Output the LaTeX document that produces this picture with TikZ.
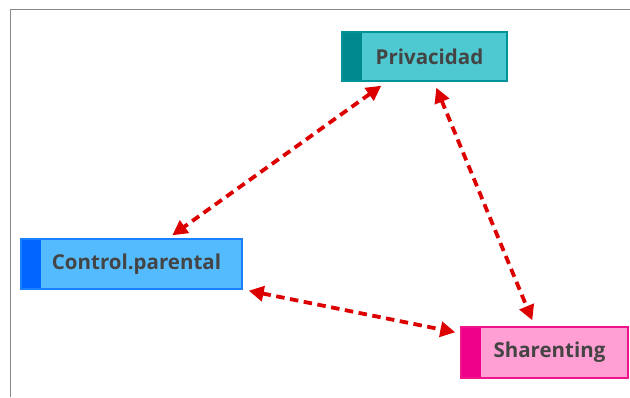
\documentclass[tikz,border=0pt]{standalone}
\usepackage{fontspec}
\setmainfont{Open Sans}
\usetikzlibrary{arrows.meta}
\definecolor{tealfill}{HTML}{4FC9D1}
\definecolor{tealstrip}{HTML}{00888F}
\definecolor{tealline}{HTML}{00939A}
\definecolor{bluefill}{HTML}{55BBFF}
\definecolor{bluestrip}{HTML}{0066FF}
\definecolor{blueline}{HTML}{1A80FF}
\definecolor{pinkfill}{HTML}{FF9FD3}
\definecolor{pinkstrip}{HTML}{EE0088}
\definecolor{pinkline}{HTML}{F0148C}
\definecolor{txt}{HTML}{444444}
\definecolor{arrred}{HTML}{DD0000}
\definecolor{framegray}{HTML}{888888}
\tikzset{
  x=1pt, y=1pt,
  box/.style n args={3}{draw=#3, fill=#1, line width=1.4pt, rectangle,
    inner sep=0pt, text=txt, font=\fontsize{20.5}{24}\selectfont\bfseries,
    path picture={\fill[#2] (path picture bounding box.south west) rectangle
      ([xshift=20pt]path picture bounding box.north west);}},
  conn/.style={draw=arrred, line width=3.8pt, dash pattern=on 8.5pt off 5.5pt,
    {Triangle[length=15pt,width=15pt]}-{Triangle[length=15pt,width=15pt]}}
}
\begin{document}
\begin{tikzpicture}
\useasboundingbox (0,0) rectangle (630,397);
\draw[framegray, line width=1.3pt] (10.5,0) -- (10.5,387.5) -- (630,387.5);
\node[box={tealfill}{tealstrip}{tealline}, minimum width=165pt, minimum height=49pt]
  (priv) at (424.5,340.5) {\hspace*{10pt}Privacidad};
\node[box={bluefill}{bluestrip}{blueline}, minimum width=221pt, minimum height=50pt]
  (ctrl) at (131.5,133) {\hspace*{10pt}Control.parental};
\node[box={pinkfill}{pinkstrip}{pinkline}, minimum width=167pt, minimum height=51pt]
  (shar) at (544.5,44.5) {\hspace*{10pt}Sharenting};
\draw[conn] ([xshift=40pt,yshift=-4pt]priv.south west) -- ([xshift=152pt,yshift=3pt]ctrl.north west);
\draw[conn] ([xshift=95pt,yshift=-6pt]priv.south west) -- ([xshift=72pt,yshift=6pt]shar.north west);
\draw[conn] ([xshift=6pt,yshift=-1pt]ctrl.south east) -- ([xshift=-5pt,yshift=-6pt]shar.north west);
\end{tikzpicture}
\end{document}
